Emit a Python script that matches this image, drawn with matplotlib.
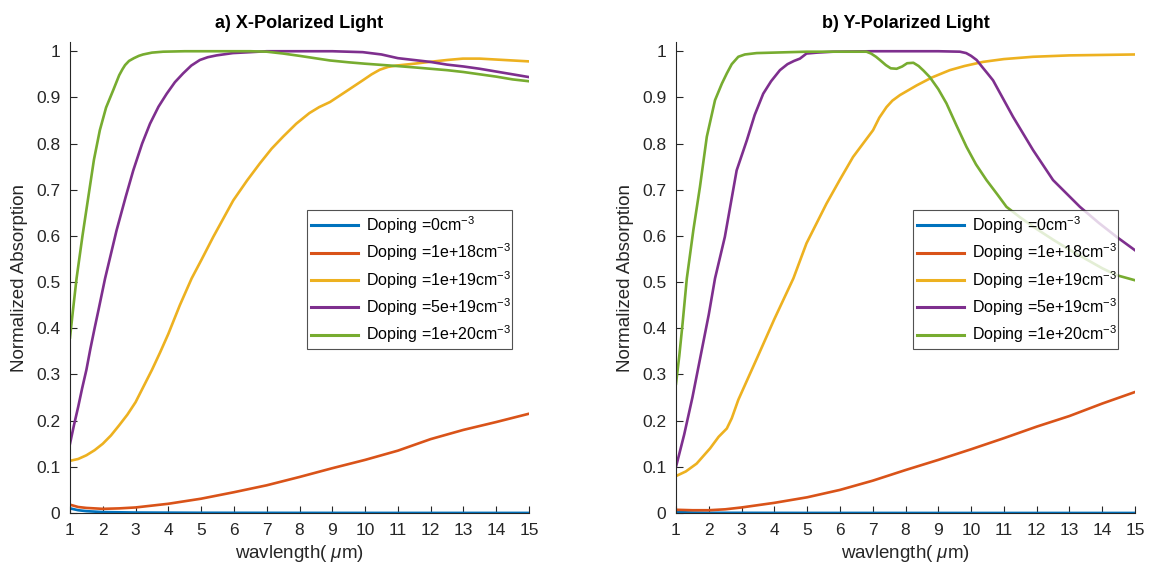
import matplotlib
matplotlib.use("Agg")
import matplotlib.pyplot as plt

plt.rcParams['font.family'] = ['Liberation Sans', 'DejaVu Sans']
plt.rcParams['mathtext.fontset'] = 'custom'
plt.rcParams['mathtext.rm'] = 'Liberation Sans'
plt.rcParams['mathtext.it'] = 'Liberation Sans:italic'

labels = ['Doping =0cm$^{-3}$', 'Doping =1e+18cm$^{-3}$', 'Doping =1e+19cm$^{-3}$',
          'Doping =5e+19cm$^{-3}$', 'Doping =1e+20cm$^{-3}$']
colors = ['#0072BD', '#D95319', '#EDB120', '#7E2F8E', '#77AC30']
titles = ['a) X-Polarized Light', 'b) Y-Polarized Light']

# ---- a) X-polarized ----
xa_blue = [1, 1.25, 1.5, 2, 3, 5, 8, 11, 15]
ya_blue = [0.010, 0.006, 0.004, 0.002, 0.001, 0.0005, 0.0003, 0.0002, 0.0002]
xa_red = [1, 1.25, 1.5, 2, 2.5, 3, 4, 5, 6, 7, 8, 9, 10, 11, 12, 13, 14, 15]
ya_red = [0.018, 0.013, 0.011, 0.009, 0.010, 0.012, 0.020, 0.031, 0.045, 0.060, 0.078,
          0.097, 0.115, 0.135, 0.160, 0.180, 0.197, 0.215]
xa_yel = [1, 1.25, 1.5, 1.75, 2, 2.25, 2.5, 2.75, 3, 3.25, 3.5, 3.75, 4, 4.35, 4.71,
          5, 5.37, 5.98, 6.4, 6.79, 7.15, 7.5, 7.9, 8.3, 8.6, 8.93, 9.4, 9.93, 10.2,
          10.45, 10.7, 10.96, 11.5, 11.98, 12.5, 12.98, 13.5, 14, 14.5, 15]
ya_yel = [0.113, 0.117, 0.125, 0.136, 0.150, 0.168, 0.190, 0.213, 0.240, 0.275, 0.310,
          0.348, 0.388, 0.450, 0.508, 0.547, 0.598, 0.677, 0.720, 0.757, 0.789, 0.815,
          0.843, 0.866, 0.879, 0.890, 0.912, 0.937, 0.950, 0.960, 0.966, 0.969, 0.973,
          0.977, 0.981, 0.984, 0.984, 0.982, 0.980, 0.978]
xa_pur = [1, 1.12, 1.25, 1.37, 1.5, 1.62, 1.75, 1.87, 2.07, 2.42, 2.7, 2.93, 3.2, 3.44,
          3.7, 3.95, 4.2, 4.45, 4.7, 4.96, 5.2, 5.47, 5.97, 6.5, 7, 8, 9, 9.93, 10.5, 11,
          11.98, 12.5, 13, 13.5, 14, 14.5, 15]
ya_pur = [0.150, 0.190, 0.230, 0.270, 0.310, 0.355, 0.400, 0.440, 0.508, 0.612, 0.685,
          0.742, 0.800, 0.843, 0.880, 0.908, 0.933, 0.952, 0.969, 0.981, 0.987, 0.991,
          0.996, 0.998, 1.000, 1.000, 1.000, 0.998, 0.993, 0.985, 0.977, 0.971, 0.967,
          0.962, 0.956, 0.950, 0.944]
xa_grn = [1, 1.1, 1.2, 1.38, 1.56, 1.73, 1.91, 2.1, 2.32, 2.5, 2.6, 2.68, 2.8, 2.95,
          3.1, 3.23, 3.5, 3.84, 4.5, 5.5, 6.5, 7, 7.5, 8, 8.93, 9.5, 10.0, 10.96, 11.5,
          12, 12.5, 13, 13.5, 14, 14.5, 15]
ya_grn = [0.380, 0.445, 0.508, 0.600, 0.685, 0.765, 0.829, 0.878, 0.916, 0.948, 0.961,
          0.970, 0.979, 0.985, 0.990, 0.993, 0.997, 0.999, 1.000, 1.000, 1.000, 0.999,
          0.995, 0.990, 0.980, 0.976, 0.973, 0.968, 0.965, 0.962, 0.959, 0.955, 0.950,
          0.945, 0.939, 0.935]

# ---- b) Y-polarized ----
xb_blue = [1, 1.5, 2, 5, 10, 15]
yb_blue = [0.002, 0.001, 0.0005, 0.0002, 0.0001, 0.0001]
xb_red = [1, 1.5, 2, 2.5, 3, 4, 5, 6, 7, 8, 9, 10, 11, 12, 13, 14, 15]
yb_red = [0.007, 0.006, 0.006, 0.008, 0.012, 0.022, 0.034, 0.050, 0.070, 0.093, 0.115,
          0.138, 0.162, 0.187, 0.210, 0.237, 0.262]
xb_yel = [1, 1.3, 1.63, 2.04, 2.3, 2.55, 2.7, 2.9, 3.5, 4.0, 4.58, 4.98, 5.59, 6.0,
          6.4, 7.01, 7.2, 7.42, 7.6, 7.83, 8.0, 8.34, 8.8, 9.35, 9.8, 10.37, 11.0,
          11.89, 13, 14, 15]
yb_yel = [0.080, 0.090, 0.107, 0.140, 0.165, 0.183, 0.205, 0.245, 0.340, 0.420, 0.508,
          0.584, 0.670, 0.722, 0.771, 0.829, 0.856, 0.879, 0.893, 0.905, 0.912, 0.926,
          0.943, 0.959, 0.968, 0.977, 0.983, 0.988, 0.991, 0.992, 0.993]
xb_pur = [1, 1.25, 1.5, 1.75, 2, 2.19, 2.49, 2.85, 3.16, 3.4, 3.66, 3.9, 4.17, 4.4,
          4.6, 4.78, 4.98, 5.3, 5.79, 7, 8, 9, 9.66, 9.85, 10.0, 10.17, 10.35, 10.5,
          10.67, 11.28, 11.89, 12.5, 13.32, 13.9, 14.44, 15]
yb_pur = [0.100, 0.170, 0.250, 0.340, 0.430, 0.508, 0.598, 0.742, 0.807, 0.862, 0.908,
          0.935, 0.959, 0.972, 0.979, 0.984, 0.995, 0.997, 0.999, 1.000, 1.000, 1.000,
          0.999, 0.996, 0.990, 0.981, 0.965, 0.952, 0.937, 0.858, 0.786, 0.721, 0.663,
          0.628, 0.598, 0.569]
xb_grn = [1, 1.1, 1.2, 1.33, 1.53, 1.73, 1.94, 2.19, 2.4, 2.55, 2.7, 2.9, 3.1, 3.46,
          4.98, 6.81, 6.95, 7.1, 7.22, 7.4, 7.55, 7.73, 7.9, 8.05, 8.24, 8.4, 8.55, 8.74,
          9.0, 9.25, 9.55, 9.86, 10.15, 10.47, 10.8, 11.08, 11.5, 12, 12.5, 13, 13.5,
          14, 14.44, 15]
yb_grn = [0.280, 0.340, 0.410, 0.508, 0.613, 0.706, 0.815, 0.894, 0.930, 0.952, 0.972,
          0.988, 0.993, 0.996, 0.999, 0.999, 0.995, 0.988, 0.981, 0.970, 0.963, 0.962,
          0.967, 0.974, 0.975, 0.968, 0.958, 0.944, 0.918, 0.887, 0.840, 0.793, 0.755,
          0.721, 0.690, 0.663, 0.640, 0.615, 0.592, 0.570, 0.550, 0.530, 0.515, 0.504]

series_a = [(xa_blue, ya_blue), (xa_red, ya_red), (xa_yel, ya_yel), (xa_pur, ya_pur), (xa_grn, ya_grn)]
series_b = [(xb_blue, yb_blue), (xb_red, yb_red), (xb_yel, yb_yel), (xb_pur, yb_pur), (xb_grn, yb_grn)]

xticks = list(range(1, 16))
yticks = [0, 0.1, 0.2, 0.3, 0.4, 0.5, 0.6, 0.7, 0.8, 0.9, 1]
yticklabels = ['0', '0.1', '0.2', '0.3', '0.4', '0.5', '0.6', '0.7', '0.8', '0.9', '1']

W, H = 1149, 573
fig = plt.figure(figsize=(W / 100, H / 100), dpi=100)
axes_px = [(70, 529), (676, 1135)]
top_px, bot_px = 42, 513
axc = '#262626'

for i, (series, (l, r)) in enumerate(zip([series_a, series_b], axes_px)):
    ax = fig.add_axes([l / W, 1 - bot_px / H, (r - l) / W, (bot_px - top_px) / H])
    for (xs, ys), c, lab in zip(series, colors, labels):
        ax.plot(xs, ys, color=c, lw=1.9, label=lab, solid_joinstyle='round')
    ax.set_xlim(1, 15)
    ax.set_ylim(0, 1.02)
    ax.set_xticks(xticks)
    ax.set_yticks(yticks)
    ax.set_yticklabels(yticklabels)
    for s in ['top', 'right']:
        ax.spines[s].set_visible(False)
    for s in ['left', 'bottom']:
        ax.spines[s].set_color(axc)
        ax.spines[s].set_linewidth(0.8)
    ax.tick_params(direction='in', length=5, width=0.8, colors=axc, labelsize=12.5,
                   labelcolor=axc, pad=7)
    ax.set_xlabel(r'wavlength( $\mu$m)', fontsize=13.5, color=axc, labelpad=4)
    ax.set_ylabel('Normalized Absorption', fontsize=13.5, color=axc, labelpad=6)
    ax.set_title(titles[i], fontsize=13, fontweight='bold', color='black', pad=10)
    lx = (307 - l) / (r - l) if i == 0 else (913 - l) / (r - l)
    leg = ax.legend(loc='lower left', bbox_to_anchor=(lx, (bot_px - 349) / (bot_px - top_px),
                                                      205 / (r - l), 139 / (bot_px - top_px)),
                    mode='expand', fontsize=11.5, frameon=True, fancybox=False,
                    edgecolor='#262626', handlelength=3.0, handletextpad=0.5,
                    labelspacing=0.36, borderpad=0.22, borderaxespad=0)
    leg.get_frame().set_linewidth(0.8)
    for ln in leg.get_lines():
        ln.set_linewidth(2.2)

fig.savefig('out.png', dpi=100)
